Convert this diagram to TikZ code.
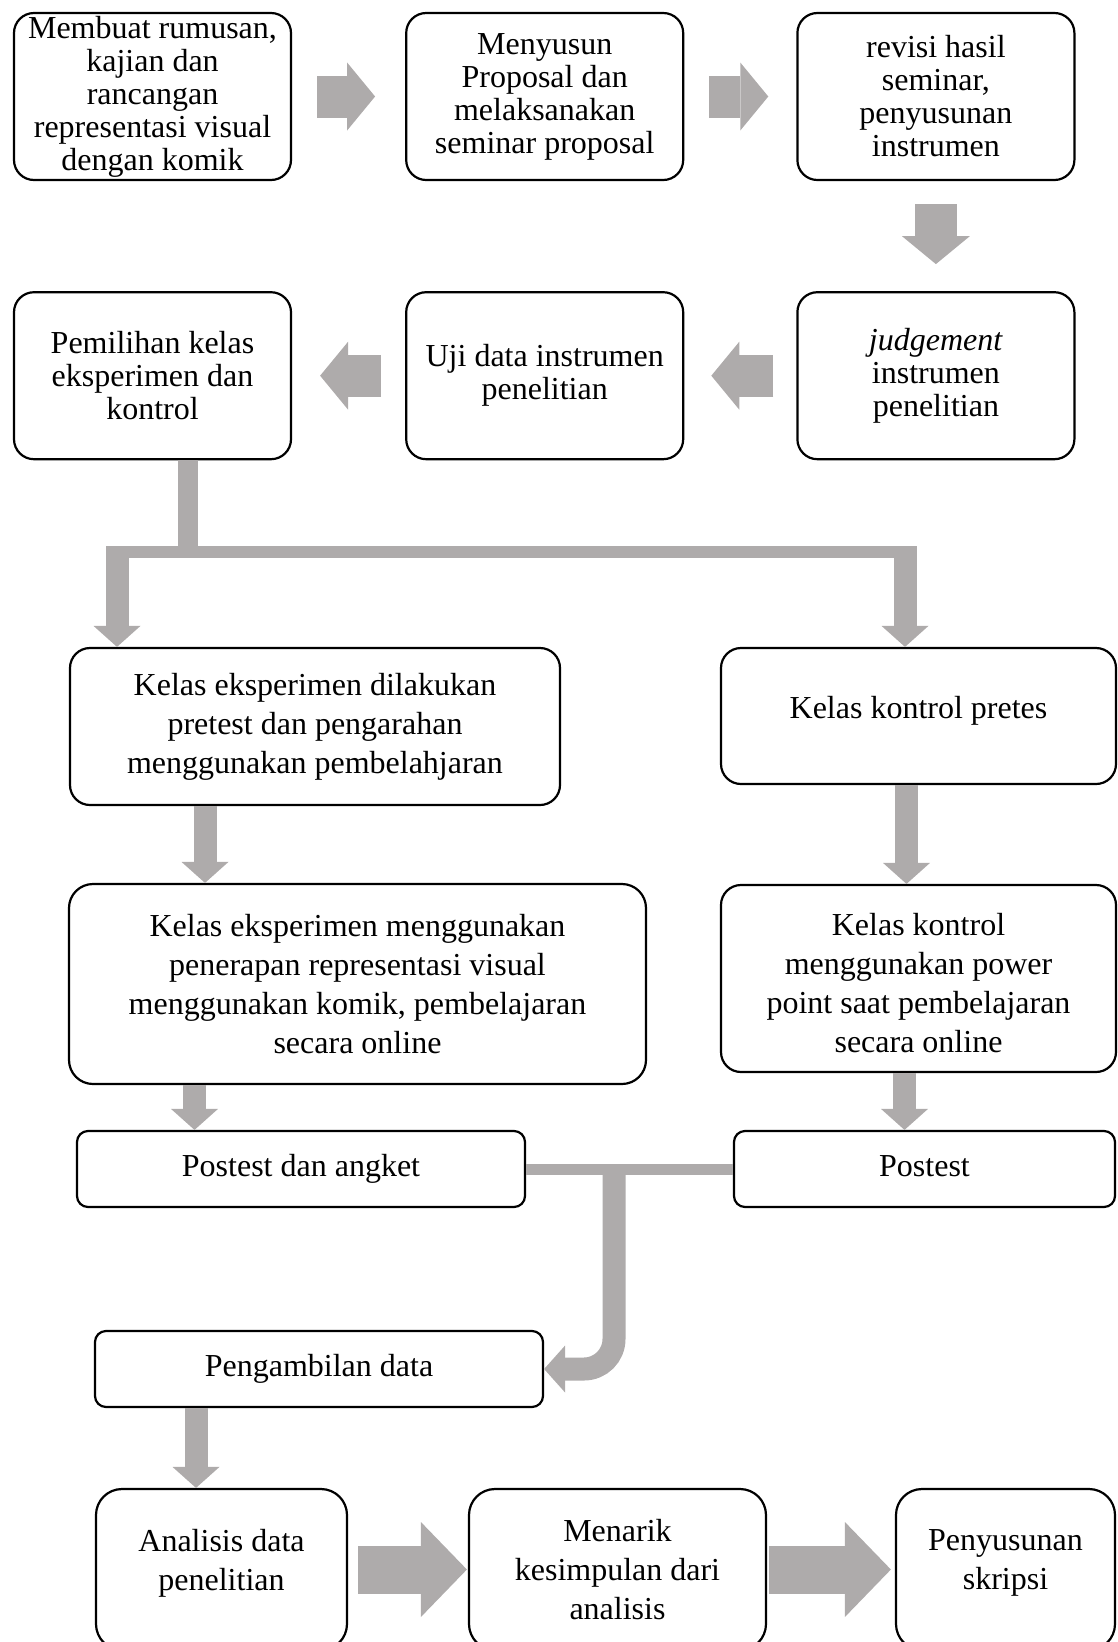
\documentclass[tikz,border=0pt]{standalone}
\usepackage{fontspec}
\setmainfont{Liberation Serif}
\usepackage{tikz}
\usetikzlibrary{positioning, arrows.meta}

\definecolor{blockgray}{RGB}{174,171,171}

\begin{document}
\begin{tikzpicture}[
  x=1pt, y=-1pt,
  box/.style={draw, line width=2.2pt, rounded corners=20pt, fill=white,
              align=center, inner sep=2pt,
              font=\fontsize{32}{39}\selectfont},
  tight/.style={box, font=\fontsize{32}{33}\selectfont,
                minimum width=277pt, minimum height=167pt},
  slim/.style={box, rounded corners=11pt, minimum height=76pt,
               text height=22pt, text depth=7pt},
  bigflow/.style={draw=blockgray, line width=42pt,
                  -{Triangle[length=28pt, width=68pt, line width'=0pt]}},
  midflow/.style={draw=blockgray, line width=23pt,
                  -{Triangle[length=21pt, width=47pt, line width'=0pt]}},
  wideflow/.style={draw=blockgray, line width=48pt,
                   -{Triangle[length=46pt, width=95pt, line width'=0pt]}},
  bar/.style={draw=blockgray, line width=#1},
]
\useasboundingbox (0,0) rectangle (1117,1642);

% persiapan
\node[tight] (rm) at (152.5,96.5)
  {Membuat rumusan,\\ kajian dan\\ rancangan\\ representasi visual\\ dengan komik};
\node[tight, right=113pt of rm] (pr)
  {Menyusun\\ Proposal dan\\ melaksanakan\\ seminar proposal};
\node[tight, right=112pt of pr] (rv)
  {revisi hasil\\ seminar,\\ penyusunan\\ instrumen};
\node[tight, below=110pt of rm] (pk) {Pemilihan kelas\\ eksperimen dan\\ kontrol};
\node[tight, below=110pt of pr] (uj) {Uji data instrumen\\ penelitian};
\node[tight, below=110pt of rv] (jd) {\textit{judgement}\\ instrumen\\ penelitian};

% pelaksanaan
\node[box, minimum width=490pt, minimum height=157pt] (ke) at (315,726.5)
  {Kelas eksperimen dilakukan\\ pretest dan pengarahan\\ menggunakan pembelahjaran};
\node[box, minimum width=395pt, minimum height=136pt] (kk) at (918.5,716)
  {Kelas kontrol pretes\\[-22pt]\mbox{}};
\node[box, rounded corners=24pt, minimum width=577pt, minimum height=200pt] (ek)
  at (357.5,984)
  {Kelas eksperimen menggunakan\\ penerapan representasi visual\\
   menggunakan komik, pembelajaran\\ secara online};
\node[box, minimum width=395pt, minimum height=187pt] (kp) at (918.5,978.5)
  {\mbox{}\\[-7pt]Kelas kontrol\\ menggunakan power\\ point saat pembelajaran\\ secara online};
\node[slim, minimum width=448pt] (pa) at (301,1169) {Postest dan angket};
\node[slim, minimum width=381pt] (po) at (924.5,1169) {Postest};
\node[slim, minimum width=448pt] (pd) at (319,1369) {Pengambilan data};

% akhir
\node[box, rounded corners=26pt, minimum width=251pt, minimum height=161pt] (an)
  at (221.5,1569.5) {Analisis data\\ penelitian\\[-20pt]\mbox{}};
\node[box, rounded corners=26pt, minimum width=297pt, minimum height=161pt] (mk)
  at (617.5,1569.5) {Menarik\\ kesimpulan dari\\ analisis};
\node[box, rounded corners=26pt, minimum width=219pt, minimum height=161pt] (ps)
  at (1005.5,1569.5) {Penyusunan\\ skripsi\\[-20pt]\mbox{}};

\draw[bigflow] ([xshift=25pt]rm.east) -- ([xshift=-30pt]pr.west);
\draw[bigflow] ([xshift=25pt]pr.east) -- ([xshift=-28pt]rv.west);
\draw[bigflow] ([yshift=-23pt]rv.south) -- ([yshift=27pt]jd.north);
\draw[bigflow] ([xshift=-23pt]jd.west) -- ([xshift=27pt]uj.east);
\draw[bigflow] ([xshift=-24pt]uj.west) -- ([xshift=28pt]pk.east);

% percabangan
\coordinate (split) at (188,552);
\coordinate (brL) at (117,552);
\coordinate (brR) at (905,552);
\draw[bar=20pt] ([xshift=35.5pt]pk.south) -- (split);
\draw[bar=12pt] (brL) -- (brR);
\draw[midflow] ([yshift=6pt]brL) -- (brL |- ke.north);
\draw[midflow] ([yshift=6pt]brR) -- (brR |- kk.north);

\draw[midflow] ([xshift=-110pt]ke.south) -- ([xshift=-110pt]ke.south |- ek.north);
\draw[midflow] ([xshift=-12pt]kk.south) -- ([xshift=-12pt]kk.south |- kp.north);
\draw[midflow] ([xshift=-163pt]ek.south) -- ([xshift=-163pt]ek.south |- pa.north);
\draw[midflow] ([xshift=-14pt]kp.south) -- ([xshift=-14pt]kp.south |- po.north);

% gabungan
\coordinate (merge) at (614,1169);
\draw[bar=11pt] (pa.east) -- (po.west);
\draw[midflow, rounded corners=30pt] (merge) |- (pd.east);

\draw[midflow] ([xshift=-123pt]pd.south) -- ([xshift=-123pt]pd.south |- an.north);
\draw[wideflow] ([xshift=10pt]an.east) -- ([xshift=-1pt]mk.west);
\draw[wideflow] ([xshift=2pt]mk.east) -- ([xshift=-4pt]ps.west);
\end{tikzpicture}
\end{document}
